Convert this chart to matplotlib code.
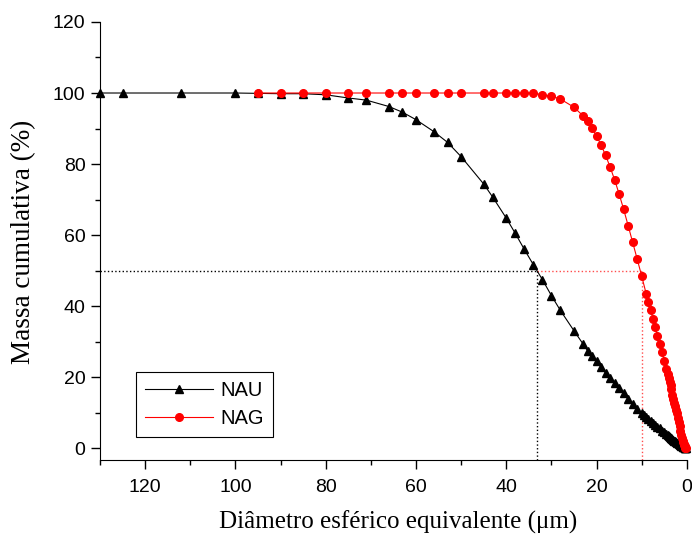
import matplotlib.pyplot as plt
from matplotlib.ticker import MultipleLocator

# NAU: diametro (um) x massa cumulativa (%)
nau_d = [130, 125, 112, 100, 95, 90, 85, 80, 75, 71, 66, 63, 60, 56, 53, 50,
         45, 43, 40, 38, 36, 34, 32, 30, 28, 25, 23, 22, 21, 20, 19, 18, 17,
         16, 15, 14, 13, 12, 11, 10, 9.5, 9, 8.5, 8, 7.5, 7, 6.5, 6, 5.5, 5,
         4.5, 4.2, 4.0, 3.8, 3.6, 3.4, 3.2, 3.0, 2.8, 2.6, 2.4, 2.2, 2.0, 1.8,
         1.6, 1.4, 1.2, 1.0, 0.9, 0.8, 0.7, 0.6, 0.5, 0.4, 0.3, 0.2]
nau_m = [100, 100, 100, 100, 99.9, 99.8, 99.8, 99.5, 98.6, 98.0, 96.2, 94.6,
         92.5, 89.1, 86.1, 82.1, 74.4, 70.7, 64.8, 60.5, 56.0, 51.7, 47.5, 43.0,
         38.8, 33.1, 29.4, 27.5, 26.1, 24.5, 22.9, 21.2, 19.8, 18.3, 16.9, 15.5,
         13.9, 12.5, 11.1, 9.9, 9.4, 8.9, 8.3, 7.8, 7.2, 6.7, 6.1, 5.6, 5.0, 4.5,
         4.0, 3.7, 3.4, 3.2, 3.0, 2.8, 2.6, 2.4, 2.2, 2.0, 1.8, 1.6, 1.4, 1.2,
         1.1, 0.9, 0.7, 0.6, 0.5, 0.4, 0.35, 0.3, 0.2, 0.15, 0.1, 0.05]

# NAG
nag_d = [95, 90, 85, 80, 75, 71, 66, 63, 60, 56, 53, 50, 45, 43, 40, 38, 36,
         34, 32, 30, 28, 25, 23, 22, 21, 20, 19, 18, 17, 16, 15, 14, 13, 12,
         11, 10, 9, 8.5, 8, 7.5, 7, 6.5, 6, 5.5, 5, 4.5, 4.2, 4.0, 3.8, 3.6,
         3.4, 3.2, 3.0, 2.8, 2.6, 2.4, 2.2, 2.0, 1.8, 1.6, 1.4, 1.2, 1.0, 0.9,
         0.8, 0.7, 0.6, 0.5, 0.4, 0.3, 0.2]
nag_m = [100, 100, 100, 100, 100, 100, 100, 100, 100, 100, 100, 100, 100, 100,
         100, 100, 100, 100, 99.5, 99.1, 98.3, 96.0, 93.6, 92.0, 90.1, 87.9,
         85.4, 82.5, 79.2, 75.6, 71.6, 67.3, 62.7, 58.0, 53.3, 48.5, 43.5, 41.2,
         38.8, 36.5, 34.2, 31.7, 29.4, 27.1, 24.7, 22.4, 20.8, 19.8, 18.8, 17.8,
         16.6, 15.1, 14.0, 12.9, 11.9, 10.9, 9.9, 8.6, 7.5, 6.2, 4.9, 3.8, 2.8,
         2.2, 1.7, 1.3, 0.9, 0.6, 0.4, 0.2, 0.1]

# d50 de cada amostra
d50_nau = 33.2
d50_nag = 10.0

plt.rcParams['font.family'] = ['Liberation Sans', 'DejaVu Sans']

fig = plt.figure(figsize=(6.92, 5.35), dpi=100)
ax = fig.add_axes([0.1445, 0.140, 0.848, 0.819])

ax.plot(nau_d, nau_m, color='black', lw=0.8, marker='^', ms=6,
        label='NAU', clip_on=False, zorder=3)
ax.plot(nag_d, nag_m, color='red', lw=0.8, marker='o', ms=5.5,
        label='NAG', clip_on=False, zorder=4)

ymin = -3.3
ax.plot([130, d50_nau], [50, 50], color='black', ls=':', lw=1)
ax.plot([d50_nau, d50_nau], [ymin, 50], color='black', ls=':', lw=1)
ax.plot([d50_nau, d50_nag], [50, 50], color='red', ls=':', lw=1, alpha=0.7)
ax.plot([d50_nag, d50_nag], [ymin, 50], color='red', ls=':', lw=1, alpha=0.7)

ax.set_xlim(130, 0)
ax.set_ylim(ymin, 120)
ax.spines['top'].set_visible(False)
ax.spines['right'].set_visible(False)
ax.xaxis.set_major_locator(MultipleLocator(20))
ax.xaxis.set_minor_locator(MultipleLocator(10))
ax.yaxis.set_major_locator(MultipleLocator(20))
ax.yaxis.set_minor_locator(MultipleLocator(10))
ax.tick_params(which='major', direction='out', length=6.5, width=1, labelsize=14)
ax.tick_params(which='minor', direction='out', length=3.5, width=1)
ax.tick_params(axis='x', which='major', pad=7)
ax.tick_params(axis='y', which='major', pad=4)

ax.set_xlabel('Diâmetro esférico equivalente (μm)', family='Liberation Serif',
              fontsize=18)
ax.set_ylabel('Massa cumulativa (%)', family='Liberation Serif', fontsize=19.5)
ax.xaxis.set_label_coords(0.508, -0.115)
ax.yaxis.set_label_coords(-0.108, 0.497)

leg = ax.legend(loc='lower left', bbox_to_anchor=(0.061, 0.0525),
                borderaxespad=0, fontsize=14.5, fancybox=False,
                edgecolor='black', framealpha=1, handlelength=3.4,
                handletextpad=0.35, borderpad=0.45, labelspacing=0.45)
leg.get_frame().set_linewidth(0.8)

fig.savefig('out.png', dpi=100)
